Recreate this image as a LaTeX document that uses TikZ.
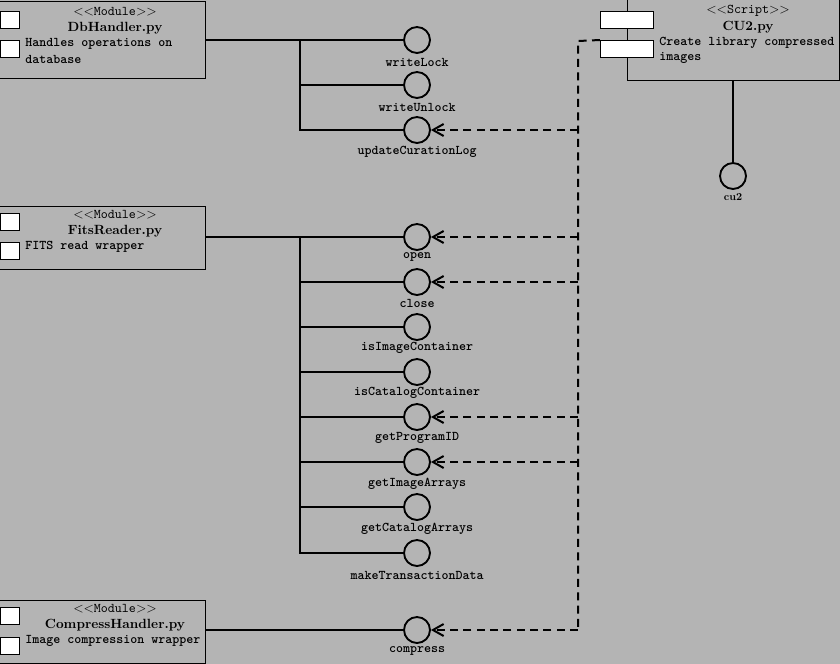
\documentclass[tikz,border=0pt]{standalone}
\usepackage{fontspec}
\newfontfamily\ttb{lmmonolt10-bold}[Extension=.otf]
\newfontfamily\titlef{lmroman10-bold}[Extension=.otf]
\usetikzlibrary{arrows.meta}
\definecolor{bggray}{RGB}{180,180,180}
\newcommand{\stereo}[1]{{$<$$<$}{\ttfamily #1}{$>$$>$}}
\begin{document}
\begin{tikzpicture}[x=0.75pt,y=-0.75pt,
  box/.style={draw=black,line width=0.75pt,fill=bggray,inner sep=0pt,anchor=north west},
  port/.style={draw=black,line width=0.75pt,fill=white,inner sep=0pt,anchor=north west,minimum width=14.25pt,minimum height=12.75pt},
  cport/.style={port,minimum width=39.75pt},
  iface/.style={circle,draw=black,line width=1.4pt,minimum size=19.5pt,inner sep=0pt},
  ilbl/.style={font=\ttb,inner sep=0pt},
  ster/.style={inner sep=0pt},
  title/.style={font=\titlef,inner sep=0pt},
  desc/.style={font=\ttb,inner sep=0pt,anchor=west},
  wire/.style={line width=1.5pt},
  dep/.style={line width=1.5pt,dash pattern=on 6pt off 4pt},
  deparrow/.style={dep,-{Straight Barb[length=8pt,width=9pt,line width=1.5pt]}}
]
\fill[bggray] (0,0) rectangle (840,664);
\useasboundingbox (0,0) rectangle (840,664);

% ---------- DbHandler ----------
\node[box,minimum width=161.25pt,minimum height=57.75pt] (db) at (-10,1) {};
\node[port] (dbp1) at (0,11) {};
\node[port] (dbp2) at (0,40) {};
\node[ster] (dbs) at (115,12) {\stereo{Module}};
\node[title] (dbt) at (115,28) {DbHandler.py};
\node[desc] (dbd1) at (25,44) {Handles operations on};
\node[desc] (dbd2) at (25,59) {database};

\node[iface] (wl) at (417,40) {};
\node[iface] (wu) at (417,85) {};
\node[iface] (ucl) at (417,130) {};
\node[ilbl] (wlL) at (417,62) {writeLock};
\node[ilbl] (wuL) at (417,107) {writeUnlock};
\node[ilbl] (uclL) at (417,152) {updateCurationLog};
\coordinate (j1) at (300,40);
\draw[wire] (db.east |- wl) -- (wl);
\draw[wire] (j1) |- (wu);
\draw[wire] (j1) |- (ucl);

% ---------- FitsReader ----------
\node[box,minimum width=161.25pt,minimum height=47.25pt] (fr) at (-10,206) {};
\node[port] (frp1) at (0,213) {};
\node[port] (frp2) at (0,242) {};
\node[ster] (frs) at (115,215) {\stereo{Module}};
\node[title] (frt) at (115,231) {FitsReader.py};
\node[desc] (frd1) at (25,247) {FITS read wrapper};

\node[iface] (op) at (417,237) {};
\node[iface] (cl) at (417,282) {};
\node[iface] (iic) at (417,327) {};
\node[iface] (icc) at (417,372) {};
\node[iface] (gpi) at (417,417) {};
\node[iface] (gia) at (417,462) {};
\node[iface] (gca) at (417,507) {};
\node[iface] (mtd) at (417,553) {};
\node[ilbl] (opL) at (417,257) {open};
\node[ilbl] (clL) at (417,303) {close};
\node[ilbl] (iicL) at (417,348) {isImageContainer};
\node[ilbl] (iccL) at (417,393) {isCatalogContainer};
\node[ilbl] (gpiL) at (417,438) {getProgramID};
\node[ilbl] (giaL) at (417,484) {getImageArrays};
\node[ilbl] (gcaL) at (417,529) {getCatalogArrays};
\node[ilbl] (mtdL) at (417,575) {makeTransactionData};
\coordinate (j2) at (300,237);
\draw[wire] (fr.east |- op) -- (op);
\draw[wire] (j2) |- (cl);
\draw[wire] (j2) |- (iic);
\draw[wire] (j2) |- (icc);
\draw[wire] (j2) |- (gpi);
\draw[wire] (j2) |- (gia);
\draw[wire] (j2) |- (gca);
\draw[wire] (j2) |- (mtd);

% ---------- CompressHandler ----------
\node[box,minimum width=161.25pt,minimum height=47.25pt] (ch) at (-10,600) {};
\node[port] (chp1) at (0,607) {};
\node[port] (chp2) at (0,637) {};
\node[ster] (chs) at (115,609) {\stereo{Module}};
\node[title] (cht) at (115,625) {CompressHandler.py};
\node[desc] (chd1) at (25,641) {Image compression wrapper};

\node[iface] (cmp) at (417,630) {};
\node[ilbl] (cmpL) at (417,651) {compress};
\draw[wire] (ch.east |- cmp) -- (cmp);

% ---------- CU2 script ----------
\node[box,minimum width=159pt,minimum height=61.5pt] (cu) at (627,-2) {};
\node[cport] (cup1) at (600,11) {};
\node[cport] (cup2) at (600,40) {};
\node[ster] (cus) at (748,11) {\stereo{Script}};
\node[title] (cut) at (748,27) {CU2.py};
\node[desc] (cud1) at (659,43) {Create library compressed};
\node[desc] (cud2) at (659,58) {images};

\node[iface] (cu2) at (733,176) {};
\node[inner sep=0pt,font=\titlef\footnotesize] (cu2L) at (733,197) {cu2};
\draw[wire] (cu.south -| cu2) -- (cu2);

% ---------- dependencies ----------
\coordinate (dtop) at (578,41);
\coordinate (dbot) at (578,630);
\draw[dep] (cup2.north west) -- (dtop) -- (dbot);
\draw[deparrow] (dtop |- ucl) -- (ucl);
\draw[deparrow] (dtop |- op) -- (op);
\draw[deparrow] (dtop |- cl) -- (cl);
\draw[deparrow] (dtop |- gpi) -- (gpi);
\draw[deparrow] (dtop |- gia) -- (gia);
\draw[deparrow] (dbot) -- (cmp);
\end{tikzpicture}
\end{document}
